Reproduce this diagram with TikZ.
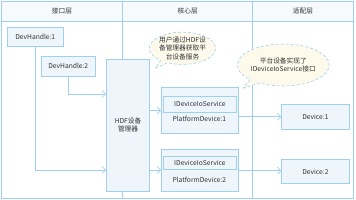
\documentclass[tikz,border=0pt]{standalone}
\usepackage{fontspec}
\setmainfont{Noto Sans CJK SC}
\usetikzlibrary{arrows.meta,shapes.callouts}
\definecolor{ln}{HTML}{9FD0F0}
\definecolor{bx}{HTML}{EEF6FC}
\definecolor{cl}{HTML}{FDFAEC}
\definecolor{hd}{HTML}{F6FAFD}
\definecolor{tx}{HTML}{333333}
\tikzset{
  frame/.style={draw=ln, line width=0.8pt},
  box/.style={draw=ln, fill=bx, line width=0.8pt, anchor=north west, inner sep=0pt, text=tx, align=center},
  conn/.style={draw=ln, line width=0.8pt, -{Straight Barb[length=3.5pt,width=7pt,line width=0.7pt]}},
  bubble/.style={ellipse callout, draw=ln, densely dashed, fill=cl, line width=0.6pt, inner sep=0pt, align=center, text=tx},
  lbl/.style={text=tx, inner sep=0pt}
}
\begin{document}
\begin{tikzpicture}[x=1pt,y=-1pt, font=\fontsize{6.7}{8.3}\selectfont]
\path[use as bounding box] (0,0) rectangle (356,200);
% frame
\fill[hd] (1.7,1) rectangle (353.5,21);
\draw[frame] (1.7,1) rectangle (353.5,198.7);
\draw[frame] (1.7,21) -- (353.5,21);
\draw[frame] (122.7,1) -- (122.7,198.7);
\draw[frame] (252.7,1) -- (252.7,198.7);
\node[lbl] (h1) at (62,11) {接口层};
\node[lbl] (h2) at (187.7,11) {核心层};
\node[lbl] (h3) at (303,11) {适配层};
% boxes
\node[box, minimum width=56.3pt, minimum height=19pt] (dh1) at (6.7,27) {DevHandle:1};
\node[box, minimum width=54.3pt, minimum height=19.7pt] (dh2) at (40.7,56) {DevHandle:2};
\node[box, minimum width=43.3pt, minimum height=131.7pt] (hdf) at (106,59) {HDF设备\\管理器};
\node[box, minimum width=76.7pt, minimum height=45.3pt] (pd1) at (161,87.5) {};
\node[box, minimum width=72.4pt, minimum height=15.7pt] (io1) at (163.3,96) {IDeviceIoService};
\node[lbl] (pl1) at (199.3,119) {PlatformDevice:1};
\node[box, minimum width=76.7pt, minimum height=41.5pt] (pd2) at (161,149.5) {};
\node[box, minimum width=72.4pt, minimum height=12.7pt] (io2) at (163.3,156) {IDeviceIoService};
\node[lbl] (pl2) at (199.3,180) {PlatformDevice:2};
\node[box, minimum width=67.4pt, minimum height=25pt] (dv1) at (281.3,104.3) {Device:1};
\node[box, minimum width=67.4pt, minimum height=24.3pt] (dv2) at (281.3,159) {Device:2};
% connector levels
\coordinate (y1) at (0,170);
\coordinate (y2) at (0,94);
\coordinate (y3) at (0,110.5);
\coordinate (y4) at (0,170);
\coordinate (y5) at (0,116.7);
\coordinate (y6) at (0,170.7);
\draw[conn] (dh1.south) |- (hdf.west |- y1);
\draw[conn] (dh2.south) |- (hdf.west |- y2);
\draw[conn] (hdf.east |- y3) -- (pd1.west |- y3);
\draw[conn] (hdf.east |- y4) -- (pd2.west |- y4);
\draw[conn] (pd1.east |- y5) -- (dv1.west |- y5);
\draw[conn] (pd2.east |- y6) -- (dv2.west |- y6);
% callouts
\node[bubble, minimum width=60pt, minimum height=31pt, callout absolute pointer={(155,68.3)}] (c1) at (182.5,48.3) {用户通过HDF设\\备管理器获取平\\台设备服务};
\node[bubble, minimum width=82pt, minimum height=42pt, callout absolute pointer={(242.7,88.3)}] (c2) at (283.3,65) {平台设备实现了\\IDeviceIoService接口};
\end{tikzpicture}
\end{document}
